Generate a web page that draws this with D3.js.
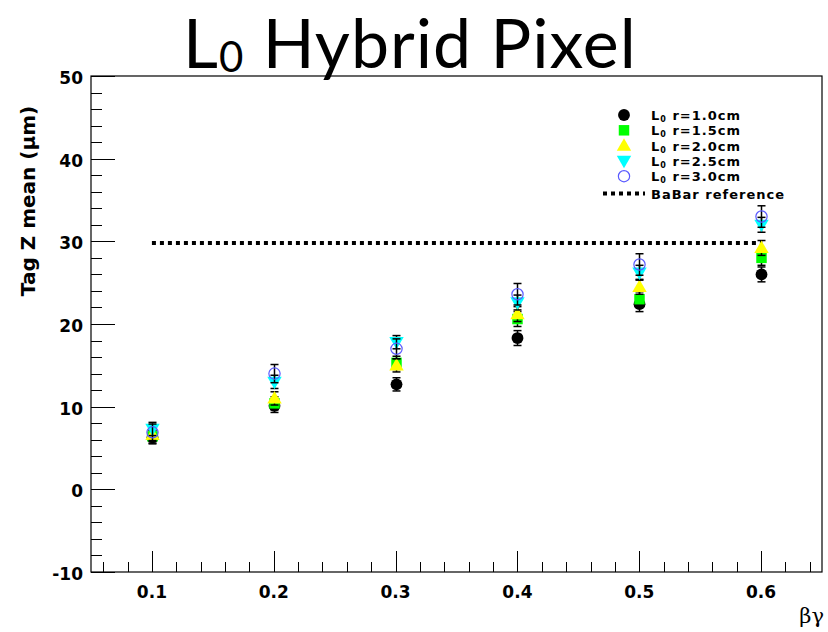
<!DOCTYPE html>
<html lang="en">
<head>
  <meta charset="UTF-8">
  <title>L0 Hybrid Pixel</title>
  <script src="https://d3js.org/d3.v7.min.js"></script>
  <style>
    body { margin: 0; background: #fff; }
    .tick-label { font-family: "DejaVu Sans", sans-serif; font-weight: bold; font-size: 17px; }
    .leg-text { font-family: "DejaVu Sans", sans-serif; font-weight: bold; font-size: 13px; letter-spacing: 1px; }
  </style>
</head>
<body>
  <script>
    // data
    const betaGamma = [0.1, 0.2, 0.3, 0.4, 0.5, 0.6];
    const r10 = [6.3, 10.1, 12.7, 18.3, 22.4, 26.0];
    const r15 = [6.4, 10.4, 15.3, 20.6, 23.0, 28.0];
    const r20 = [6.6, 11.0, 15.0, 21.2, 24.5, 29.2];
    const r25 = [7.3, 13.0, 17.8, 22.6, 26.2, 32.0];
    const r30 = [6.9, 14.0, 17.0, 23.6, 27.2, 33.0];
    const errSmall = [0.8, 0.8, 0.8, 0.9, 0.9, 0.9];
    const errLarge = [1.0, 1.1, 1.2, 1.3, 1.3, 1.3];
    const babarRef = 29.8;
    const yTicks = [-10, 0, 10, 20, 30, 40, 50];
    const xTicks = [0.1, 0.2, 0.3, 0.4, 0.5, 0.6];

    const series = [
      { name: 'r=1.0cm', values: r10, err: errSmall, shape: 'circle', fill: '#000', stroke: 'none' },
      { name: 'r=1.5cm', values: r15, err: errSmall, shape: 'square', fill: '#00ff00', stroke: 'none' },
      { name: 'r=2.0cm', values: r20, err: errSmall, shape: 'triup', fill: '#ffff00', stroke: 'none' },
      { name: 'r=2.5cm', values: r25, err: errSmall, shape: 'tridown', fill: '#00ffff', stroke: 'none' },
      { name: 'r=3.0cm', values: r30, err: errLarge, shape: 'open', fill: 'none', stroke: '#5a5aff' }
    ];

    const W = 828, H = 632;
    const plotL = 91, plotR = 822, plotT = 76, plotB = 572;

    const svg = d3.select('body').append('svg')
      .attr('width', W).attr('height', H);

    const x = d3.scaleLinear().domain([0.05, 0.65]).range([plotL, plotR]);
    const y = d3.scaleLinear().domain([-10, 50]).range([plotB, plotT]);

    // title
    const title = svg.append('text')
      .attr('x', 183).attr('y', 68)
      .style('font-family', 'Lato, "Open Sans", sans-serif')
      .style('font-size', '68px')
      .style('letter-spacing', '1px')
      .attr('fill', '#000');
    title.append('tspan').text('L');
    title.append('tspan').attr('dy', 4).style('font-size', '42px').text('0');
    title.append('tspan').attr('dy', -4).text(' Hybrid Pixel');

    // frame
    svg.append('rect')
      .attr('x', plotL).attr('y', plotT)
      .attr('width', plotR - plotL).attr('height', plotB - plotT)
      .attr('fill', 'none').attr('stroke', '#000').attr('stroke-width', 1.2);

    // y axis ticks (major every 10, minor every 2)
    const yMinor = d3.range(-10, 50.1, 2);
    svg.append('g').selectAll('line').data(yMinor).join('line')
      .attr('x1', plotL)
      .attr('x2', d => plotL + (d % 10 === 0 ? 24 : 11))
      .attr('y1', d => Math.round(y(d)) + 0.5).attr('y2', d => Math.round(y(d)) + 0.5)
      .attr('stroke', '#000');

    svg.append('g').selectAll('text').data(yTicks).join('text')
      .attr('class', 'tick-label')
      .attr('x', 83).attr('y', d => y(d) + 8)
      .attr('text-anchor', 'end')
      .text(d => d);

    // x axis ticks (major every 0.1, minor every 0.02)
    const xMinor = d3.range(6, 65, 2).map(d => d / 100);
    svg.append('g').selectAll('line').data(xMinor).join('line')
      .attr('x1', d => Math.round(x(d)) + 0.5).attr('x2', d => Math.round(x(d)) + 0.5)
      .attr('y1', plotB)
      .attr('y2', d => plotB - (Math.round(d * 100) % 10 === 0 ? 21 : 10))
      .attr('stroke', '#000');

    svg.append('g').selectAll('text').data(xTicks).join('text')
      .attr('class', 'tick-label')
      .attr('x', d => x(d)).attr('y', 598)
      .attr('text-anchor', 'middle')
      .text(d => d.toFixed(1));

    // axis titles
    svg.append('text')
      .attr('transform', 'translate(35,201) rotate(-90)')
      .attr('text-anchor', 'middle')
      .style('font-family', '"DejaVu Sans", sans-serif')
      .style('font-weight', 'bold')
      .style('font-size', '20px')
      .text('Tag Z mean (\u03bcm)');

    svg.append('text')
      .attr('x', 824).attr('y', 623)
      .attr('text-anchor', 'end')
      .style('font-family', '"DejaVu Serif", serif')
      .style('font-size', '21px')
      .text('\u03b2\u03b3');

    // BaBar reference line
    svg.append('line')
      .attr('x1', x(0.1)).attr('x2', x(0.6))
      .attr('y1', y(babarRef)).attr('y2', y(babarRef))
      .attr('stroke', '#000').attr('stroke-width', 4)
      .attr('stroke-dasharray', '4,4');

    const sym = {
      circle: d3.symbol(d3.symbolCircle, 110),
      square: d3.symbol(d3.symbolSquare, 110),
      triup: d3.symbol(d3.symbolTriangle, 90),
      tridown: d3.symbol(d3.symbolTriangle, 90),
      open: d3.symbol(d3.symbolCircle, 100)
    };

    function drawMarker(g, s, cx, cy) {
      const p = g.append('path')
        .attr('d', sym[s.shape]())
        .attr('fill', s.fill)
        .attr('stroke', s.stroke)
        .attr('stroke-width', s.shape === 'open' ? 1.2 : 0);
      let t = `translate(${cx},${cy})`;
      if (s.shape === 'tridown') t += ' rotate(180)';
      if (s.shape === 'triup' || s.shape === 'tridown') t += ' translate(0,1)';
      p.attr('transform', t);
    }

    // points with error bars
    series.forEach(s => {
      const g = svg.append('g');
      betaGamma.forEach((b, i) => {
        const cx = Math.round(x(b)) + 0.5;
        const v = s.values[i], e = s.err[i];
        g.append('line')
          .attr('x1', cx).attr('x2', cx)
          .attr('y1', y(v - e)).attr('y2', y(v + e))
          .attr('stroke', '#000').attr('stroke-width', 1.5);
        [v - e, v + e].forEach(c => {
          g.append('line')
            .attr('x1', cx - 4).attr('x2', cx + 4)
            .attr('y1', y(c)).attr('y2', y(c))
            .attr('stroke', '#000').attr('stroke-width', 1.5);
        });
        drawMarker(g, s, cx, y(v));
      });
    });

    // legend
    const legTop = 115, legStep = 15.3;
    const leg = svg.append('g');
    series.forEach((s, i) => {
      const ly = legTop + i * legStep;
      drawMarker(leg, s, 624, ly);
      const t = leg.append('text')
        .attr('class', 'leg-text')
        .attr('x', 651).attr('y', ly + 5);
      t.append('tspan').text('L');
      t.append('tspan').attr('dy', 2).style('font-size', '8px').text('0');
      t.append('tspan').attr('dy', -2).text(' ' + s.name);
    });
    const ly = legTop + 5 * legStep + 2;
    leg.append('line')
      .attr('x1', 603).attr('x2', 645)
      .attr('y1', ly).attr('y2', ly)
      .attr('stroke', '#000').attr('stroke-width', 4)
      .attr('stroke-dasharray', '4,4');
    leg.append('text')
      .attr('class', 'leg-text')
      .attr('x', 651).attr('y', ly + 5)
      .text('BaBar reference');
  </script>
</body>
</html>
